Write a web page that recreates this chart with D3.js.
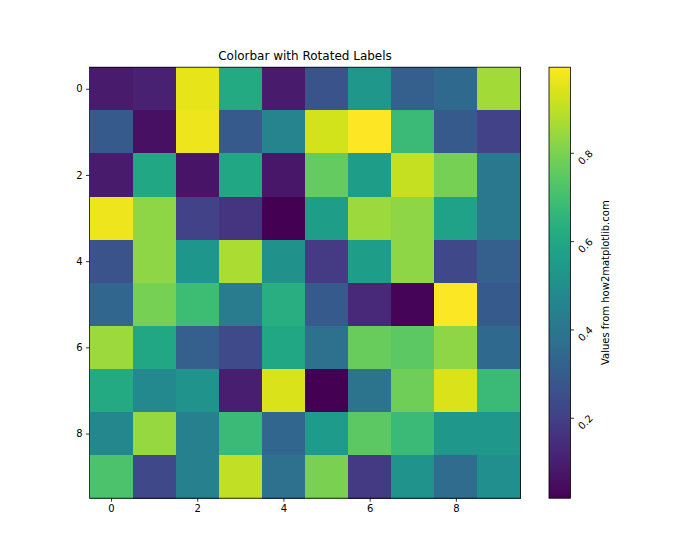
<!DOCTYPE html>
<html>
<head>
<meta charset="utf-8">
<script src="https://cdn.jsdelivr.net/npm/d3@7"></script>
<style>
  body { margin: 0; background: #fff; }
  svg { font-family: "DejaVu Sans", sans-serif; }
</style>
</head>
<body>
<div id="chart"></div>
<script>
const rows = [0,1,2,3,4,5,6,7,8,9];
const cols = [0,1,2,3,4,5,6,7,8,9];
const values = [
  [0.09,0.11,0.96,0.61,0.09,0.27,0.54,0.31,0.35,0.86],
  [0.29,0.06,0.97,0.29,0.46,0.93,0.995,0.68,0.29,0.21],
  [0.09,0.60,0.07,0.60,0.08,0.76,0.56,0.91,0.79,0.41],
  [0.97,0.83,0.21,0.17,0.019,0.56,0.85,0.83,0.58,0.41],
  [0.27,0.83,0.53,0.87,0.51,0.19,0.56,0.83,0.23,0.31],
  [0.34,0.79,0.69,0.42,0.63,0.29,0.13,0.03,0.99,0.29],
  [0.85,0.60,0.31,0.24,0.60,0.38,0.77,0.75,0.83,0.35],
  [0.61,0.48,0.52,0.10,0.94,0.02,0.39,0.78,0.94,0.68],
  [0.47,0.84,0.44,0.68,0.34,0.55,0.75,0.68,0.54,0.54],
  [0.72,0.23,0.44,0.90,0.38,0.80,0.18,0.52,0.36,0.50]
];
const axisTicks = [0,2,4,6,8];
const cbarTicks = [0.2,0.4,0.6,0.8];
const title = "Colorbar with Rotated Labels";
const cbarLabel = "Values from how2matplotlib.com";

const W = 700, H = 560;
const svg = d3.select("#chart").append("svg").attr("width", W).attr("height", H);

const plotLeft = 89.5, plotTop = 67.2, size = 431;
const x = d3.scaleLinear().domain([-0.5, 9.5]).range([plotLeft, plotLeft + size]);
const y = d3.scaleLinear().domain([-0.5, 9.5]).range([plotTop, plotTop + size]);

const flat = values.flat();
const vmin = d3.min(flat), vmax = d3.max(flat);
const color = d3.scaleSequential(d3.interpolateViridis).domain([vmin, vmax]);

const cells = [];
rows.forEach(r => cols.forEach(c => cells.push({r, c, v: values[r][c]})));

svg.append("g").selectAll("rect").data(cells).join("rect")
  .attr("x", d => x(d.c - 0.5))
  .attr("y", d => y(d.r - 0.5))
  .attr("width", x(1) - x(0) + 0.5)
  .attr("height", y(1) - y(0) + 0.5)
  .attr("fill", d => color(d.v))
  .attr("shape-rendering", "crispEdges");

svg.append("rect")
  .attr("x", plotLeft).attr("y", plotTop).attr("width", size).attr("height", size)
  .attr("fill", "none").attr("stroke", "#000").attr("stroke-width", 0.8);

const xAxis = svg.append("g").attr("transform", `translate(0,${plotTop + size})`)
  .call(d3.axisBottom(x).tickValues(axisTicks).tickSize(3.5).tickPadding(3.5).tickFormat(d3.format("d")));
const yAxis = svg.append("g").attr("transform", `translate(${plotLeft},0)`)
  .call(d3.axisLeft(y).tickValues(axisTicks).tickSize(3.5).tickPadding(3.5).tickFormat(d3.format("d")));
[xAxis, yAxis].forEach(g => {
  g.select(".domain").remove();
  g.selectAll(".tick line").attr("stroke", "#000").attr("stroke-width", 0.8);
  g.selectAll(".tick text").attr("font-size", 10).attr("fill", "#000").attr("font-family", "DejaVu Sans");
});

svg.append("text")
  .attr("x", plotLeft + size / 2).attr("y", plotTop - 7)
  .attr("text-anchor", "middle").attr("font-size", 12).attr("fill", "#000")
  .text(title);

// colorbar
const cbX = 549, cbW = 21.5;
const cy = d3.scaleLinear().domain([vmin, vmax]).range([plotTop + size, plotTop]);
const defs = svg.append("defs");
const grad = defs.append("linearGradient").attr("id", "cbgrad")
  .attr("x1", 0).attr("y1", 1).attr("x2", 0).attr("y2", 0);
d3.range(0, 1.0001, 0.02).forEach(t => {
  grad.append("stop").attr("offset", t).attr("stop-color", d3.interpolateViridis(t));
});
svg.append("rect").attr("x", cbX).attr("y", plotTop).attr("width", cbW).attr("height", size)
  .attr("fill", "url(#cbgrad)").attr("stroke", "#000").attr("stroke-width", 0.8);

const cbTicks = svg.append("g").selectAll("g").data(cbarTicks).join("g")
  .attr("transform", d => `translate(${cbX + cbW},${cy(d)})`);
cbTicks.append("line").attr("x1", 0).attr("x2", 3.5).attr("stroke", "#000").attr("stroke-width", 0.8);
cbTicks.append("text")
  .attr("transform", "translate(15,4) rotate(-45)")
  .attr("text-anchor", "middle").attr("dominant-baseline", "central")
  .attr("font-size", 10).attr("fill", "#000")
  .text(d => d3.format(".1f")(d));

svg.append("text")
  .attr("transform", `translate(609,${plotTop + size / 2}) rotate(-90)`)
  .attr("text-anchor", "middle").attr("font-size", 10).attr("fill", "#000")
  .text(cbarLabel);
</script>
</body>
</html>
